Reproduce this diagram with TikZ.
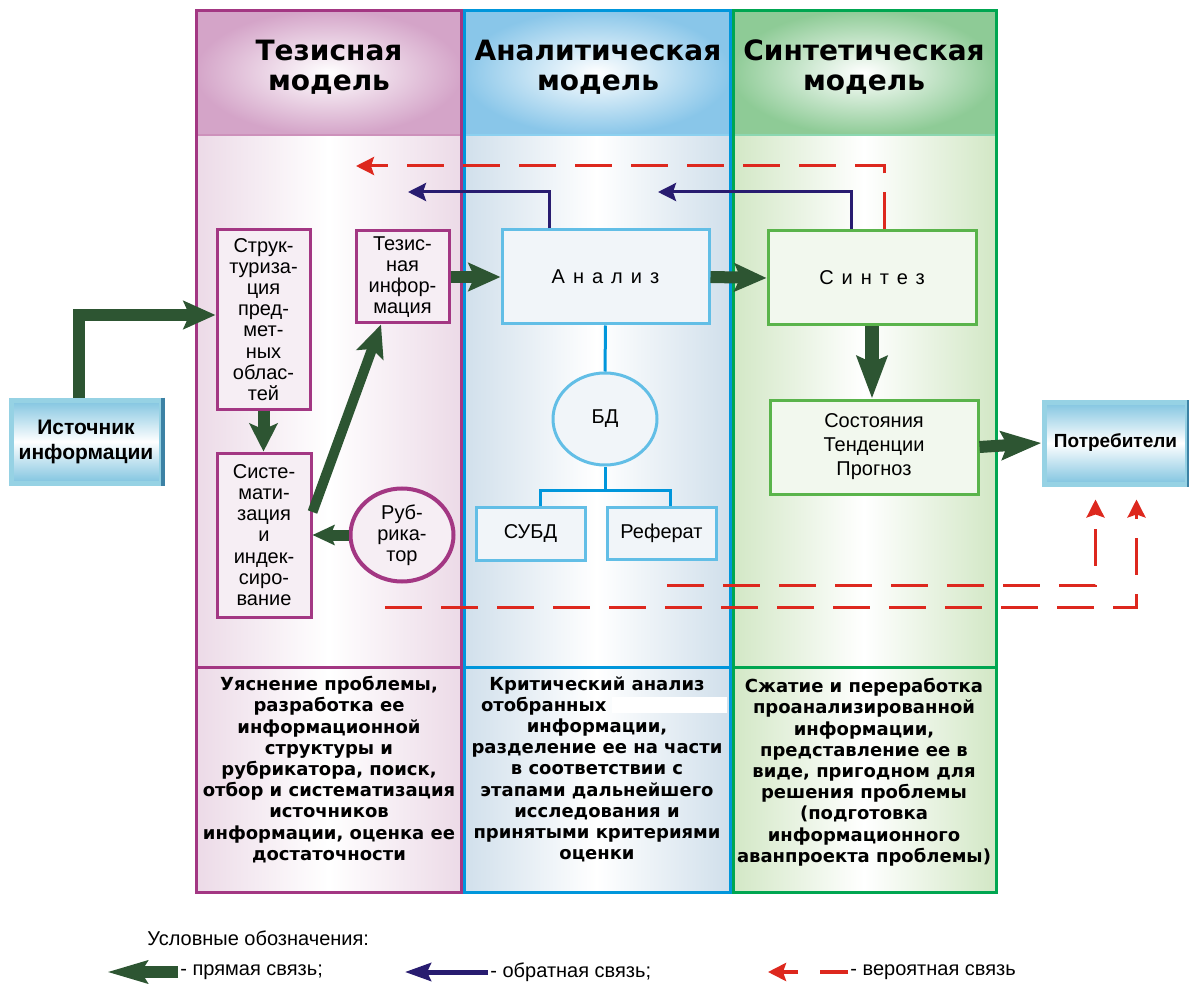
\documentclass[tikz,border=0pt]{standalone}
\usepackage{fontspec}
\setmainfont{Liberation Sans}
\newfontfamily\headfont{DejaVu Sans}
\usetikzlibrary{arrows.meta,shapes.geometric}

\definecolor{tezline}{RGB}{163,55,131}
\definecolor{tezhead}{RGB}{212,164,200}
\definecolor{tezbody}{RGB}{236,218,231}
\definecolor{anline}{RGB}{0,150,219}
\definecolor{anhead}{RGB}{137,198,233}
\definecolor{anbody}{RGB}{208,223,235}
\definecolor{anframe}{RGB}{98,190,230}
\definecolor{sinline}{RGB}{0,166,81}
\definecolor{sinhead}{RGB}{142,203,150}
\definecolor{sinbody}{RGB}{210,231,197}
\definecolor{sinframe}{RGB}{90,180,75}
\definecolor{arrgreen}{RGB}{45,85,50}
\definecolor{arrnavy}{RGB}{40,28,112}
\definecolor{arrred}{RGB}{221,40,30}
\definecolor{srcfill}{RGB}{128,196,224}
\definecolor{srcedge}{RGB}{150,210,228}
\definecolor{srcdark}{RGB}{60,130,165}

\begin{document}
\begin{tikzpicture}[x=0.5pt,y=-0.5pt,
  colhead/.style={font=\headfont\bfseries\fontsize{14}{15}\selectfont, align=center},
  colnote/.style={font=\headfont\bfseries\fontsize{9}{10.6}\selectfont, align=center, anchor=north, inner sep=0pt},
  tezblock/.style={draw=tezline, line width=1.5pt, fill=white!55!tezbody, align=center, inner sep=0pt, font=\fontsize{10}{10.6}\selectfont},
  anblock/.style={draw=anframe, line width=1.5pt, fill=white!70!anbody, align=center, inner sep=0pt, font=\fontsize{10}{12}\selectfont},
  sinblock/.style={draw=sinframe, line width=1.5pt, fill=white!70!sinbody, align=center, inner sep=0pt, font=\fontsize{10}{12}\selectfont},
  endblock/.style={draw=srcedge, line width=2.5pt, top color=srcfill, bottom color=srcfill, middle color=white, align=center, inner sep=0pt, font=\bfseries\fontsize{10.5}{12.5}\selectfont},
  spaced/.style={font=\fontsize{10}{12}\selectfont\addfontfeature{LetterSpace=40}},
  direct/.style={draw=arrgreen, line width=6pt, -{Stealth[length=16pt,width=14pt,inset=3pt]}},
  feedback/.style={draw=arrnavy, line width=1.5pt, -{Stealth[length=9pt,width=9pt,inset=1.5pt]}},
  maybe/.style={draw=arrred, line width=1.5pt, dash pattern=on 18.5pt off 9.5pt, -{Stealth[length=9pt,width=9pt,inset=1.5pt]}},
  dblink/.style={draw=anline, line width=1.5pt},
  legtext/.style={font=\fontsize{10}{12}\selectfont, anchor=west, inner sep=1pt}]
\useasboundingbox (0,0) rectangle (1189,984);

% columns
\shade[inner color=white, outer color=tezhead] (195,10) rectangle (462,135);
\shade[left color=tezbody, right color=tezbody, middle color=white] (195,135) rectangle (462,893);
\shade[inner color=white, outer color=anhead] (462,10) rectangle (731,135);
\shade[left color=anbody, right color=anbody, middle color=white] (462,135) rectangle (731,893);
\shade[inner color=white, outer color=sinhead] (731,10) rectangle (997,135);
\shade[left color=sinbody, right color=sinbody, middle color=white] (731,135) rectangle (997,893);
\fill[white] (612,697) rectangle (727,713);
\draw[tezline!55, line width=1pt] (196,135) -- (461,135);
\draw[anline!45, line width=1pt] (464,135) -- (730,135);
\draw[sinline!45, line width=1pt] (733,135) -- (996,135);
\draw[tezline, line width=1.5pt] (196,667) -- (461,667);
\draw[anline, line width=1.5pt] (464,667) -- (730,667);
\draw[sinline, line width=1.5pt] (733,667) -- (996,667);
\draw[tezline, line width=1.5pt] (196,11) rectangle (461,892);
\draw[anline, line width=1.5pt] (464,11) rectangle (730,892);
\draw[sinline, line width=1.5pt] (733,11) rectangle (996,892);

\node[colhead] (tezT) at (329,67) {Тезисная\\модель};
\node[colhead] (anT) at (598,67) {Аналитическая\\модель};
\node[colhead] (sinT) at (864,67) {Синтетическая\\модель};

\node[tezblock, minimum width=46.5pt, minimum height=89.5pt] (struct) at (263.5,319.5)
  {Струк-\\туриза-\\ция\\пред-\\мет-\\ных\\облас-\\тей};
\node[tezblock, minimum width=47pt, minimum height=82pt] (sist) at (264,535)
  {Систе-\\мати-\\зация\\и\\индек-\\сиро-\\вание};
\node[tezblock, minimum width=46.5pt, minimum height=46pt] (tezinf) at (402.5,277)
  {Тезис-\\ная\\инфор-\\мация};
\node[tezblock, ellipse, line width=2pt, minimum width=51.5pt, minimum height=46.5pt] (rubr) at (402,535)
  {Руб-\\рика-\\тор};

\node[anblock, spaced, minimum width=103.5pt, minimum height=47pt] (analiz) at (605.5,277) {Анализ};
\node[anblock, ellipse, minimum width=52pt, minimum height=46pt] (bd) at (605,419) {БД};
\node[anblock, minimum width=54.5pt, minimum height=26.5pt] (subd) at (530.5,533.5) {СУБД};
\node[anblock, minimum width=54.5pt, minimum height=26pt] (referat) at (661.5,533) {Реферат};

\node[sinblock, spaced, minimum width=104pt, minimum height=47pt] (sintez) at (872,278) {Синтез};
\node[sinblock, minimum width=104pt, minimum height=47pt] (sost) at (874,447)
  {Состояния\\Тенденции\\Прогноз};

\node[endblock, minimum width=75pt, minimum height=41.5pt] (source) at (86,441.5) {Источник\\информации};
\node[endblock, font=\bfseries\fontsize{9.5}{11}\selectfont, minimum width=71.5pt, minimum height=41pt] (consumers) at (1115.5,443) {Потребители};
\draw[srcdark, line width=2pt] ([xshift=-0.5pt]source.north east) -- ([xshift=-0.5pt]source.south east);
\draw[srcdark, line width=2pt] ([xshift=-0.5pt]consumers.north east) -- ([xshift=-0.5pt]consumers.south east);

\node[colnote] (tezN) at (329,676) {Уяснение проблемы,\\разработка ее\\информационной\\структуры и\\рубрикатора, поиск,\\отбор и систематизация\\источников\\информации, оценка ее\\достаточности};
\node[colnote] (anN) at (597,676) {Критический анализ\\\makebox[128pt][l]{\hspace*{6pt}отобранных}\\информации,\\разделение ее на части\\в соответствии с\\этапами дальнейшего\\исследования и\\принятыми критериями\\оценки};
\node[colnote] (sinN) at (864,678) {Сжатие и переработка\\проанализированной\\информации,\\представление ее в\\виде, пригодном для\\решения проблемы\\(подготовка\\информационного\\аванпроекта проблемы)};

% links
\draw[direct] ([xshift=-3.5pt]source.north) |- ([yshift=2.25pt]struct.west);
\draw[direct, -{Stealth[length=14pt,width=14pt,inset=3pt]}] (struct.south) -- (struct.south |- sist.north);
\draw[direct, line width=5pt] ([yshift=11.5pt]sist.east) -- ([xshift=-10.75pt]tezinf.south);
\draw[direct, line width=5.5pt, -{Stealth[length=11pt,width=10pt,inset=2pt]}] (rubr.west) -- (sist.east |- rubr.west);
\draw[direct] (tezinf.east) -- (analiz.west);
\draw[direct] (analiz.east) -- (sintez.west);
\draw[direct, line width=7pt, -{Stealth[length=21pt,width=15pt,inset=3pt]}] (sintez.south) -- (sintez.south |- sost.north);
\draw[direct, -{Stealth[length=20pt,width=14pt,inset=3pt]}] (sost.east) -- (consumers.west);

\draw[dblink] (analiz.south) -- (bd.north);
\path (bd.south) ++(0,24) coordinate (dbfork);
\draw[dblink] (bd.south) -- (dbfork) -| ([xshift=4.75pt]subd.north);
\draw[dblink] (dbfork) -| ([xshift=4.25pt]referat.north);

\coordinate (fbA) at (408,192);
\coordinate (fbS) at (658,192);
\draw[feedback] ([xshift=-28.25pt]analiz.north) |- (fbA);
\draw[feedback] ([xshift=-10.5pt]sintez.north) |- (fbS);

\coordinate (mbT) at (356,166);
\coordinate (mbA) at (667,585);
\coordinate (mbB) at (385,607);
\draw[maybe] ([xshift=6pt]sintez.north) |- (mbT);
\draw[maybe, shorten >=6.5pt] (mbA) -| ([xshift=-10pt]consumers.south);
\draw[maybe, shorten >=6.5pt] (mbB) -| ([xshift=10.5pt]consumers.south);

% legend
\node[legtext] (legtitle) at (145,938) {Условные обозначения:};
\node[legtext] (legdirect) at (178,972) {- прямая связь;};
\node[legtext] (legback) at (488,972) {- обратная связь;};
\node[legtext] (legmaybe) at (848,972) {- вероятная связь};
\coordinate (legdirectend) at (107,972);
\coordinate (legbackend) at (405,972);
\coordinate (legmaybeend) at (768,972);
\draw[direct, line width=6pt, -{Stealth[length=20pt,width=11pt,inset=3pt]}] (legdirect.west) -- (legdirectend);
\draw[feedback, line width=2.5pt, -{Stealth[length=13pt,width=9pt,inset=2pt]}] (legback.west) -- (legbackend);
\draw[maybe, line width=2pt, dash pattern=on 14pt off 11pt] (legmaybe.west) -- (legmaybeend);
\end{tikzpicture}
\end{document}
